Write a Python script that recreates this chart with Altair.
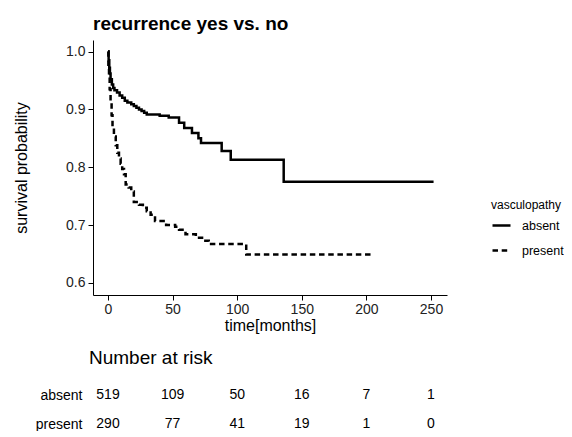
import altair as alt
import pandas as pd

# Kaplan-Meier curves
absent_time = [0, 0.5, 1, 1.5, 2, 3, 4, 5, 7, 9, 11, 13, 15, 18, 20, 22, 24, 26, 28, 30,
               40, 47, 55, 59, 65, 70, 72, 88, 95, 136, 252]
absent_surv = [1.0, 0.985, 0.972, 0.962, 0.952, 0.943, 0.937, 0.933, 0.929, 0.924, 0.92,
               0.915, 0.912, 0.909, 0.906, 0.903, 0.9, 0.897, 0.894, 0.891,
               0.889, 0.886, 0.877, 0.868, 0.859, 0.85, 0.842, 0.828, 0.813, 0.775, 0.775]

present_time = [0, 0.3, 0.8, 1.3, 2, 2.8, 3.5, 4.6, 6, 7.2, 8.5, 9.8, 11, 12.4, 13.7, 16,
                18, 20, 24, 27, 30, 33, 36.4, 45, 52, 55, 60, 68, 74, 78, 107, 206]
present_surv = [1.0, 0.975, 0.957, 0.935, 0.912, 0.89, 0.87, 0.853, 0.838, 0.825, 0.815,
                0.806, 0.797, 0.788, 0.77, 0.765, 0.758, 0.74, 0.735, 0.73, 0.724, 0.718,
                0.707, 0.7, 0.697, 0.692, 0.684, 0.678, 0.673, 0.667, 0.649, 0.649]

groups = ["absent", "present"]
risk_times = [0, 50, 100, 150, 200, 250]
risk_absent = [519, 109, 50, 16, 7, 1]
risk_present = [290, 77, 41, 19, 1, 0]

curve_df = pd.concat([
    pd.DataFrame({"time": absent_time, "surv": absent_surv, "group": "absent"}),
    pd.DataFrame({"time": present_time, "surv": present_surv, "group": "present"}),
])
risk_df = pd.concat([
    pd.DataFrame({"time": risk_times, "n": risk_absent, "group": "absent"}),
    pd.DataFrame({"time": risk_times, "n": risk_present, "group": "present"}),
])

FONT = "Liberation Sans"
xscale = alt.Scale(domain=[-11.6, 262.4], nice=False, zero=False)

curves = alt.Chart(curve_df).mark_line(
    interpolate="step-after", strokeWidth=2.5, color="black"
).encode(
    x=alt.X("time:Q", scale=xscale,
            axis=alt.Axis(values=risk_times, title="time[months]", labelPadding=2,
                          titlePadding=1, tickSize=5)),
    y=alt.Y("surv:Q", scale=alt.Scale(domain=[0.579, 1.02], nice=False, zero=False),
            axis=alt.Axis(values=[0.6, 0.7, 0.8, 0.9, 1.0], format=".1f",
                          title="survival probability", titlePadding=36,
                          labelPadding=3, tickSize=5)),
    strokeDash=alt.StrokeDash(
        "group:N",
        scale=alt.Scale(domain=groups, range=[[1, 0], [5.5, 3.7]]),
        legend=alt.Legend(title="vasculopathy", orient="none", legendX=398, legendY=160,
                          symbolType="stroke", symbolSize=324, symbolStrokeWidth=2.5,
                          symbolStrokeColor="black", rowPadding=8, labelOffset=10,
                          labelFontSize=12.5, titleFontSize=12, titleFontWeight="normal",
                          titlePadding=3, labelFont=FONT, titleFont=FONT,
                          labelColor="black", titleColor="black"),
    ),
).properties(
    width=354, height=255,
    title=alt.TitleParams("recurrence yes vs. no", anchor="start", frame="group",
                          fontSize=19, fontWeight="bold", font=FONT, offset=6,
                          color="black"),
)

risk = alt.Chart(risk_df).mark_text(fontSize=14, font=FONT, color="black").encode(
    x=alt.X("time:Q", scale=xscale, axis=None),
    y=alt.Y("group:N", scale=alt.Scale(domain=groups, type="point", padding=0),
            axis=alt.Axis(title=None, domain=False, ticks=False, labelPadding=11,
                          labelFontSize=14, labelColor="black")),
    text="n:Q",
).properties(
    width=354, height=29,
    title=alt.TitleParams("Number at risk", anchor="start", frame="group", fontSize=19,
                          fontWeight="normal", font=FONT, dx=-4, offset=20,
                          color="black"),
)

chart = alt.vconcat(curves, risk, spacing=16).configure_view(stroke=None).configure_axis(
    domainColor="black", tickColor="black", labelColor="#222", labelFont=FONT,
    labelFontSize=14, titleFont=FONT, titleFontSize=16, titleFontWeight="normal",
    titleColor="black", grid=False,
).properties(padding={"left": 5, "top": 7, "right": 0, "bottom": 0})

chart.save("out.html", embed_options={"renderer": "svg", "actions": False})
